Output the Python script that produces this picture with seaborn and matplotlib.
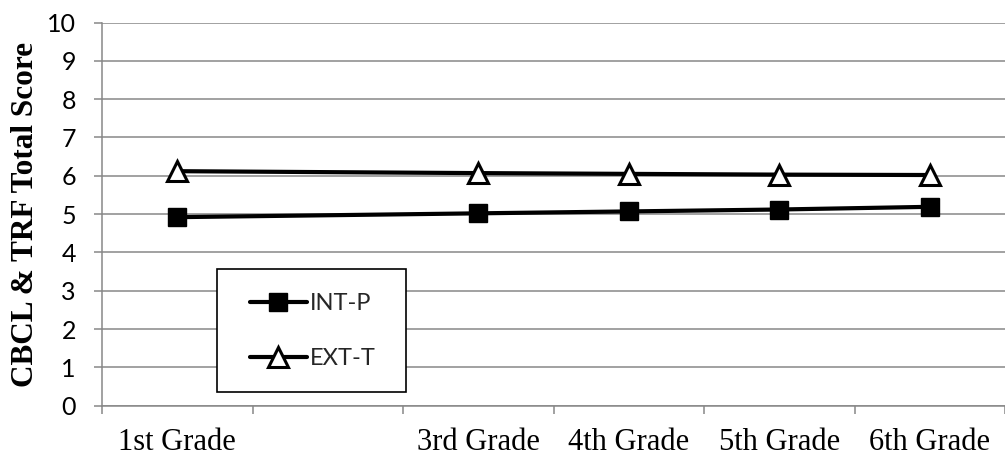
import numpy as np
import pandas as pd
import seaborn as sns
import matplotlib.pyplot as plt
from matplotlib.patches import Rectangle

grade_num = [1, 3, 4, 5, 6]
grade_labels = ["1st Grade", "3rd Grade", "4th Grade", "5th Grade", "6th Grade"]
int_p = [4.92, 5.02, 5.07, 5.12, 5.19]
ext_t = [6.12, 6.07, 6.05, 6.03, 6.02]

sns.set_theme(style="white")
plt.rcParams['font.family'] = ['Lato', 'DejaVu Sans']

fig = plt.figure(figsize=(10.05, 4.59), dpi=100)
ax = fig.add_axes([102 / 1005, 1 - 405.7 / 459, 903 / 1005, 383.2 / 459])

grid_col = '#878787'

# Lines
sns.lineplot(x=grade_num, y=int_p, ax=ax, color='black', lw=3, marker='s',
             markersize=13, markeredgewidth=1, markerfacecolor='black',
             markeredgecolor='black', label='INT-P', zorder=3)
sns.lineplot(x=grade_num, y=ext_t, ax=ax, color='black', lw=3, marker='^',
             markersize=15, markeredgewidth=2.2, markerfacecolor='white',
             markeredgecolor='black', label='EXT-T', zorder=4)

# Axes
ax.set_ylim(0, 10)
ax.set_xlim(0.5, 6.5)
ax.set_yticks(range(0, 11))
ax.yaxis.grid(True, color=grid_col, lw=1.1)
ax.xaxis.grid(False)
for s in ['top', 'right']:
    ax.spines[s].set_visible(False)
for s in ['left', 'bottom']:
    ax.spines[s].set_color(grid_col)
    ax.spines[s].set_linewidth(1.1)

ax.tick_params(axis='y', which='major', direction='out', length=5.8, width=1.1,
               color=grid_col, pad=13, labelsize=18, labelcolor='black', left=True)

bounds = np.arange(0.5, 7.0, 1.0)
ax.set_xticks(bounds)
ax.set_xticklabels([])
ax.tick_params(axis='x', which='major', direction='out', length=5.8, width=1.1,
               color=grid_col, bottom=True)
ax.set_xticks(grade_num, minor=True)
ax.set_xticklabels(grade_labels, minor=True, fontfamily='Liberation Serif',
                   fontsize=22, color='black')
ax.tick_params(axis='x', which='minor', length=0, pad=16)

ax.set_ylabel('CBCL & TRF Total Score', fontfamily='Liberation Serif',
              fontweight='bold', fontsize=22.5, color='black')
ax.yaxis.set_label_coords((40 - 102) / 903, 0.5)

# Legend with a manually drawn frame
ax.legend(loc='center left', bbox_to_anchor=((250 - 102) / 903, (405.7 - 331) / 383.2),
          frameon=False, fontsize=17, handlelength=2.4, handletextpad=0.12,
          borderpad=0, borderaxespad=0, labelspacing=1.45)
ax.add_patch(Rectangle(((217 - 102) / 903, (405.7 - 392) / 383.2),
                       (406 - 217) / 903, (392 - 269) / 383.2,
                       transform=ax.transAxes, fill=True, facecolor='white',
                       edgecolor='black', lw=1.2, zorder=5))
ax.get_legend().set_zorder(6)

fig.savefig('out.png', dpi=100)
